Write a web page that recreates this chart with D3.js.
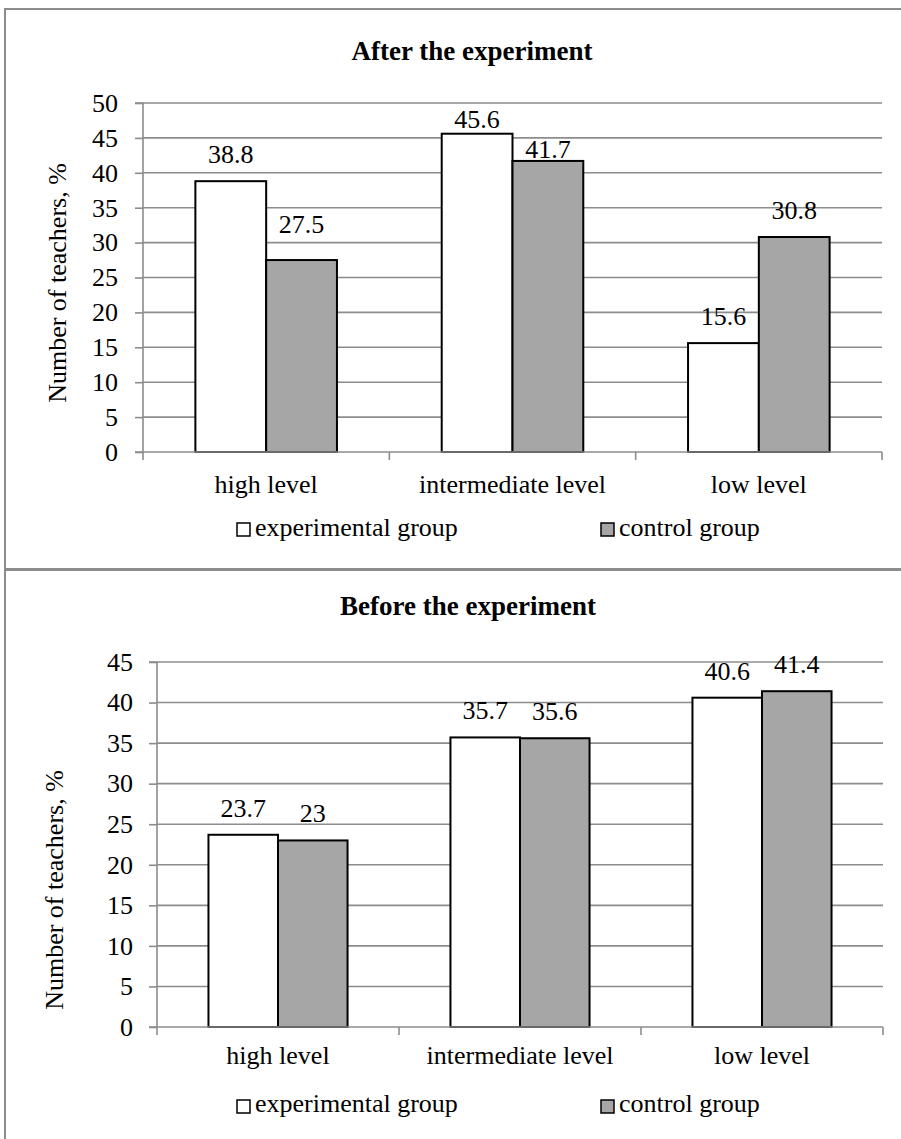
<!DOCTYPE html>
<html>
<head>
<meta charset="utf-8">
<script src="https://cdn.jsdelivr.net/npm/d3@7"></script>
<style>
  html, body { margin: 0; padding: 0; background: #fff; }
  svg { display: block; }
  text { font-family: "Liberation Serif", "Times New Roman", serif; fill: #000; }
</style>
</head>
<body>
<svg id="chart" width="901" height="1139"></svg>
<script>
// ---- data ----
const categories = ["high level", "intermediate level", "low level"];
const seriesNames = ["experimental group", "control group"];
const afterExperimental = [38.8, 45.6, 15.6];
const afterControl = [27.5, 41.7, 30.8];
const beforeExperimental = [23.7, 35.7, 40.6];
const beforeControl = [23, 35.6, 41.4];
const afterTicks = [0, 5, 10, 15, 20, 25, 30, 35, 40, 45, 50];
const beforeTicks = [0, 5, 10, 15, 20, 25, 30, 35, 40, 45];
const yAxisTitle = "Number of teachers, %";
const titles = ["After the experiment", "Before the experiment"];

// ---- style ----
const fills = ["#ffffff", "#a6a6a6"];
const gridColor = "#8c8c8c";
const borderColor = "#8c8c8c";
const fontSize = 26;

const svg = d3.select("#chart");

const panels = [
  {
    title: titles[0], exp: afterExperimental, ctl: afterControl, ticks: afterTicks, max: 50,
    box: {x: 5, y: 9, w: 898, h: 560},
    plot: {left: 143, right: 882, top: 103, bottom: 452},
    titleX: 472, titleY: 60, catY: 493, legY: 536, legBoxY: 523,
    yTitleX: 66, yTitleCY: 283, tickLabelX: 118,
    labelShift: [[0, -9], [12, 15], [0, 0]] // extra label adjustments [exp, ctl] per category
  },
  {
    title: titles[1], exp: beforeExperimental, ctl: beforeControl, ticks: beforeTicks, max: 45,
    box: {x: 5, y: 570, w: 898, h: 575},
    plot: {left: 157, right: 883, top: 662, bottom: 1027},
    titleX: 468, titleY: 615, catY: 1064, legY: 1112, legBoxY: 1100,
    yTitleX: 63, yTitleCY: 890, tickLabelX: 133,
    labelShift: [[0, 0], [0, 0], [0, 0]]
  }
];

panels.forEach(p => {
  const g = svg.append("g");

  // outer border
  g.append("rect")
    .attr("x", p.box.x).attr("y", p.box.y)
    .attr("width", p.box.w).attr("height", p.box.h)
    .attr("fill", "none").attr("stroke", borderColor).attr("stroke-width", 2);

  const x0 = d3.scaleBand().domain(categories).range([p.plot.left, p.plot.right]).paddingInner(0).paddingOuter(0);
  const x1 = d3.scaleBand().domain(seriesNames).range([0, x0.bandwidth()]).paddingOuter(0.74).paddingInner(0);
  const y = d3.scaleLinear().domain([0, p.max]).range([p.plot.bottom, p.plot.top]);

  // gridlines
  g.append("g").selectAll("line").data(p.ticks.filter(t => t > 0)).join("line")
    .attr("x1", p.plot.left).attr("x2", p.plot.right)
    .attr("y1", d => y(d)).attr("y2", d => y(d))
    .attr("stroke", gridColor).attr("stroke-width", 1.6);

  // y axis
  const yAxis = d3.axisLeft(y).tickValues(p.ticks).tickSize(8);
  const ya = g.append("g").attr("transform", `translate(${p.plot.left},0)`).call(yAxis);
  ya.select(".domain").attr("stroke", gridColor).attr("stroke-width", 1.6).attr("d", `M-8,${p.plot.bottom}H0V${p.plot.top}H-8`);
  ya.selectAll(".tick line").attr("stroke", gridColor).attr("stroke-width", 1.6);
  ya.selectAll(".tick text")
    .attr("x", p.tickLabelX - p.plot.left)
    .attr("font-size", fontSize)
    .attr("font-family", "Liberation Serif");

  // bars
  const rows = categories.map((c, i) => ({c, i, vals: [p.exp[i], p.ctl[i]]}));
  const grp = g.append("g").selectAll("g").data(rows).join("g")
    .attr("transform", d => `translate(${x0(d.c)},0)`);
  grp.selectAll("rect").data(d => d.vals.map((v, j) => ({v, j, s: seriesNames[j]}))).join("rect")
    .attr("x", d => x1(d.s)).attr("width", x1.bandwidth())
    .attr("y", d => y(d.v)).attr("height", d => y(0) - y(d.v))
    .attr("fill", d => fills[d.j]).attr("stroke", "#000").attr("stroke-width", 2);

  // data labels
  grp.selectAll("text.lbl").data(d => d.vals.map((v, j) => ({v, j, s: seriesNames[j], sh: p.labelShift[d.i][j]}))).join("text")
    .attr("class", "lbl")
    .attr("x", d => x1(d.s) + x1.bandwidth() / 2)
    .attr("y", d => y(d.v) - 18 + d.sh)
    .attr("text-anchor", "middle")
    .attr("font-size", fontSize)
    .text(d => String(d.v));

  // x axis
  const xa = g.append("g").attr("transform", `translate(0,${p.plot.bottom})`);
  xa.append("line").attr("x1", p.plot.left).attr("x2", p.plot.right).attr("y1", 0).attr("y2", 0)
    .attr("stroke", gridColor).attr("stroke-width", 1.6);
  const bounds = categories.map(c => x0(c)).concat([p.plot.right]);
  xa.selectAll("line.tk").data(bounds).join("line").attr("class", "tk")
    .attr("x1", d => d).attr("x2", d => d).attr("y1", 0).attr("y2", 8)
    .attr("stroke", gridColor).attr("stroke-width", 1.6);
  xa.selectAll("text").data(categories).join("text")
    .attr("x", d => x0(d) + x0.bandwidth() / 2)
    .attr("y", p.catY - p.plot.bottom)
    .attr("text-anchor", "middle")
    .attr("font-size", fontSize)
    .text(d => d);

  // y axis title
  g.append("text")
    .attr("transform", `translate(${p.yTitleX},${p.yTitleCY}) rotate(-90)`)
    .attr("text-anchor", "middle")
    .attr("font-size", fontSize)
    .text(yAxisTitle);

  // chart title
  g.append("text")
    .attr("x", p.titleX).attr("y", p.titleY)
    .attr("text-anchor", "middle")
    .attr("font-size", 27)
    .attr("font-weight", "bold")
    .text(p.title);

  // legend
  const legX = [237, 601];
  const leg = g.append("g").selectAll("g").data(seriesNames).join("g")
    .attr("transform", (d, i) => `translate(${legX[i]},0)`);
  leg.append("rect")
    .attr("x", 0).attr("y", p.legBoxY).attr("width", 13).attr("height", 13)
    .attr("fill", (d, i) => fills[i]).attr("stroke", "#000").attr("stroke-width", 1.5);
  leg.append("text")
    .attr("x", 18).attr("y", p.legY)
    .attr("font-size", fontSize)
    .text(d => d);
});
</script>
</body>
</html>
